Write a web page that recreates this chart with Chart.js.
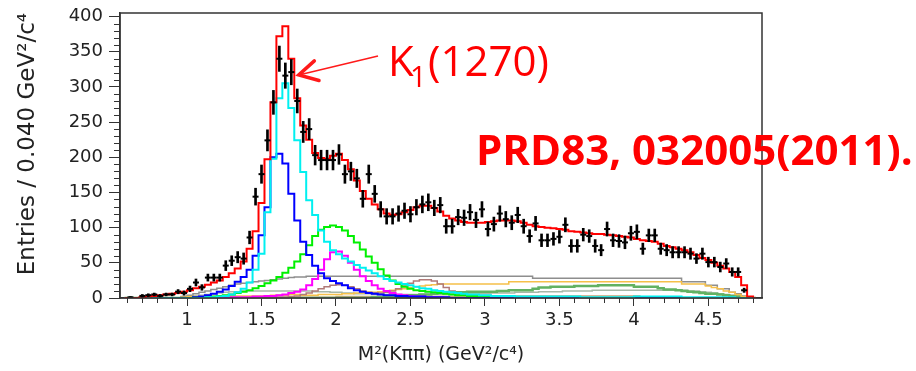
<!DOCTYPE html>
<html>
<head>
<meta charset="utf-8">
<title>M2(Kpipi) fit</title>
<script src="https://cdn.jsdelivr.net/npm/chart.js@4.4.1/dist/chart.umd.min.js"></script>
<style>
  body { margin: 0; background: #fff; }
  canvas { display: block; }
</style>
</head>
<body>
<canvas id="chart" width="916" height="371"></canvas>
<script>
// histogram binning: 0.040 GeV^2/c^4 bins, first bin centred at 0.58
var firstBin = 0.58;
var binWidth = 0.04;

var xTickValues = [1, 1.5, 2, 2.5, 3, 3.5, 4, 4.5];
var yTickValues = [0, 50, 100, 150, 200, 250, 300, 350, 400];

// data points (entries per bin), null = empty bin
var counts = [
  null, 1, null, 3, 4, 5, 3, 5, 5, 9,
  7, 13, 22, 15, 29, 29, 29, 46, 53, 58,
  56, 86, 144, 176, 224, 278, 340, 316, 321, 280,
  236, 240, 203, 196, 196, 196, 204, 176, 180, 170,
  141, 176, 148, 126, 116, 116, 120, 124, 119, 129,
  133, 136, 128, 132, 102, 102, 115, 114, 122, 111,
  126, 98, 105, 120, 112, 107, 118, 102, 88, 106,
  82, 82, 84, 87, 104, 74, 74, 90, 88, 74,
  68, 98, 82, 81, 79, 92, 94, 70, 89, 89,
  70, 68, 65, 65, 65, 63, 56, 63, 51, 51,
  44, 49, 37, 37, 11, null, null
];
var errors = [
  0, 1, 0, 2, 2, 2, 2, 2, 2, 3,
  3, 4, 5, 4, 5, 5, 5, 7, 7, 8,
  8, 9, 12, 13, 15, 17, 18, 18, 18, 17,
  15, 15, 14, 14, 14, 14, 14, 13, 13, 13,
  12, 13, 12, 11, 11, 11, 11, 11, 11, 11,
  12, 12, 11, 11, 10, 10, 11, 11, 11, 11,
  11, 10, 10, 11, 11, 10, 11, 10, 9, 10,
  9, 9, 9, 9, 10, 9, 9, 9, 9, 9,
  8, 10, 9, 9, 9, 10, 10, 8, 9, 9,
  8, 8, 8, 8, 8, 8, 7, 8, 7, 7,
  7, 7, 6, 6, 3, 0, 0
];

// fit result (red) and its components
var total = [
  0, 0, 0, 1, 2, 3, 4, 5, 6, 7,
  9, 11, 14, 16, 19, 22, 25, 30, 35, 42,
  52, 70, 95, 135, 197, 278, 372, 386, 340, 284,
  245, 225, 206, 199, 198, 202, 205, 196, 183, 167,
  152, 141, 133, 126, 120, 118, 119, 122, 125, 129,
  131, 131, 128, 123, 117, 113, 110, 108, 107, 107,
  107, 108, 109, 110, 110, 110, 109, 107, 104, 102,
  101, 100, 99, 98, 97, 95, 94, 93, 92, 91,
  91, 90, 89, 88, 87, 86, 84, 82, 81, 80,
  77, 74, 72, 70, 68, 65, 61, 57, 54, 50,
  46, 42, 37, 30, 18, 2, 0
];
var cyanComp = [
  0, 0, 0, 0, 0, 0, 0, 0, 0, 0,
  0, 0, 0, 0, 1, 1, 2, 3, 5, 8,
  13, 22, 40, 63, 122, 198, 284, 305, 270, 224,
  179, 139, 118, 96, 80, 68, 62, 56, 52, 47,
  43, 39, 35, 31, 27, 24, 22, 20, 18, 16,
  14, 13, 11, 10, 9, 8, 7, 6, 5, 5,
  4, 4, 3, 3, 3, 3, 2, 2, 2, 2,
  2, 2, 2, 2, 2, 2, 2, 1, 1, 1,
  1, 1, 1, 1, 1, 1, 2, 2, 2, 2,
  2, 2, 2, 2, 1, 1, 1, 1, 1, 1,
  1, 1, 1, 0, 0, 0, 0
];
var blueComp = [
  0, 0, 0, 0, 0, 0, 0, 0, 0, 0,
  0, 0, 1, 2, 4, 6, 9, 12, 17, 23,
  30, 40, 60, 89, 129, 200, 205, 191, 148, 110,
  80, 61, 46, 35, 28, 24, 21, 18, 14, 11,
  9, 7, 6, 5, 4, 4, 3, 3, 2, 2,
  2, 1, 1, 1, 1, 0, 0, 0, 0, 0,
  0, 0, 0, 0, 0, 0, 0, 0, 0, 0,
  0, 0, 0, 0, 0, 0, 0, 0, 0, 0,
  0, 0, 0, 0, 0, 0, 0, 0, 0, 0,
  0, 0, 0, 0, 0, 0, 0, 0, 0, 0,
  0, 0, 0, 0, 0, 0, 0
];
var greenComp = [
  0, 0, 0, 0, 0, 0, 0, 0, 0, 0,
  0, 0, 1, 1, 2, 2, 3, 4, 5, 7,
  9, 11, 14, 17, 21, 25, 30, 36, 43, 52,
  62, 75, 88, 97, 101, 103, 101, 96, 88, 79,
  69, 59, 50, 41, 32, 25, 20, 16, 13, 11,
  10, 9, 8, 7, 6, 5, 4, 4, 3, 3,
  2, 2, 2, 2, 1, 1, 1, 1, 1, 1,
  1, 1, 1, 1, 0, 0, 0, 0, 0, 0,
  0, 0, 0, 0, 0, 0, 0, 0, 0, 0,
  0, 0, 0, 0, 0, 0, 0, 0, 0, 0,
  0, 0, 0, 0, 0, 0, 0
];
var magentaComp = [
  0, 0, 0, 0, 0, 0, 0, 0, 0, 0,
  0, 0, 0, 0, 0, 0, 0, 0, 1, 1,
  1, 1, 2, 2, 3, 3, 4, 5, 7, 9,
  12, 18, 27, 40, 55, 65, 66, 60, 50, 40,
  31, 24, 18, 13, 10, 7, 5, 4, 3, 2,
  2, 1, 1, 1, 0, 0, 0, 0, 0, 0,
  0, 0, 0, 0, 0, 0, 0, 0, 0, 0,
  0, 0, 0, 0, 0, 0, 0, 0, 0, 0,
  0, 0, 0, 0, 0, 0, 0, 0, 0, 0,
  0, 0, 0, 0, 0, 0, 0, 0, 0, 0,
  0, 0, 0, 0, 0, 0, 0
];
var grayComp = [
  0, 0, 0, 0, 0, 0, 0, 0, 0, 0,
  2, 4, 6, 8, 10, 12, 14, 16, 18, 20,
  21, 22, 23, 24, 25, 26, 27, 28, 29, 30,
  30, 31, 31, 31, 31, 31, 31, 31, 31, 31,
  31, 31, 31, 31, 31, 31, 31, 31, 31, 31,
  31, 31, 31, 31, 31, 31, 31, 31, 31, 31,
  31, 31, 31, 31, 31, 31, 31, 31, 31, 28,
  28, 28, 28, 28, 28, 28, 28, 28, 28, 28,
  28, 28, 28, 28, 28, 28, 28, 28, 28, 28,
  28, 28, 28, 28, 23, 23, 23, 23, 18, 18,
  13, 13, 8, 6, 3, 0, 0
];
var orangeComp = [
  0, 0, 0, 0, 0, 0, 0, 0, 0, 0,
  1, 2, 2, 2, 2, 2, 2, 3, 3, 3,
  3, 3, 3, 3, 3, 4, 4, 4, 5, 5,
  4, 4, 4, 5, 5, 5, 5, 6, 6, 7,
  7, 8, 8, 9, 10, 11, 12, 13, 15, 16,
  17, 18, 19, 20, 20, 20, 20, 20, 20, 20,
  20, 20, 20, 20, 20, 23, 23, 23, 23, 23,
  23, 23, 23, 23, 23, 23, 23, 23, 23, 23,
  23, 23, 23, 23, 23, 23, 23, 23, 23, 23,
  23, 23, 23, 23, 20, 20, 20, 20, 17, 15,
  13, 10, 8, 5, 2, 0, 0
];
var brownComp = [
  0, 0, 0, 0, 0, 0, 0, 0, 0, 0,
  0, 0, 0, 0, 0, 0, 0, 0, 0, 0,
  0, 0, 0, 0, 0, 0, 1, 1, 2, 3,
  5, 7, 10, 13, 16, 18, 19, 18, 16, 13,
  10, 8, 7, 7, 8, 10, 13, 17, 21, 24,
  26, 26, 24, 20, 15, 10, 7, 5, 3, 2,
  1, 1, 1, 1, 1, 0, 0, 0, 0, 0,
  0, 0, 0, 0, 0, 0, 0, 0, 0, 0,
  0, 0, 0, 0, 0, 0, 0, 0, 0, 0,
  0, 0, 0, 0, 0, 0, 0, 0, 0, 0,
  0, 0, 0, 0, 0, 0, 0
];
var darkGreenComp = [
  0, 0, 0, 0, 0, 0, 0, 0, 0, 0,
  0, 0, 0, 0, 0, 0, 0, 0, 0, 0,
  0, 0, 0, 0, 0, 0, 0, 0, 0, 0,
  0, 0, 0, 0, 0, 0, 0, 0, 0, 0,
  0, 0, 1, 1, 2, 2, 3, 3, 4, 4,
  5, 5, 6, 7, 8, 8, 8, 8, 9, 9,
  9, 9, 9, 10, 10, 11, 11, 11, 11, 13,
  15, 15, 16, 16, 16, 16, 17, 17, 17, 17,
  18, 18, 18, 18, 18, 18, 16, 16, 16, 16,
  14, 12, 12, 11, 10, 9, 8, 7, 6, 6,
  5, 4, 3, 2, 1, 0, 0
];
var sageComp = [
  0, 0, 0, 0, 0, 0, 0, 0, 0, 0,
  1, 2, 3, 4, 5, 6, 7, 8, 9, 9,
  10, 10, 10, 10, 10, 10, 10, 10, 10, 10,
  10, 10, 9, 9, 9, 8, 8, 7, 7, 6,
  6, 6, 5, 5, 5, 5, 5, 5, 5, 5,
  5, 5, 5, 5, 5, 5, 5, 6, 6, 6,
  6, 6, 7, 7, 7, 7, 8, 8, 8, 8,
  9, 9, 9, 9, 10, 10, 10, 10, 10, 11,
  11, 11, 11, 11, 11, 11, 11, 11, 11, 11,
  11, 11, 11, 11, 11, 10, 10, 9, 8, 7,
  6, 5, 4, 3, 1, 0, 0
];
var tanComp = [
  0, 0, 0, 0, 0, 0, 0, 0, 0, 0,
  1, 1, 1, 1, 1, 1, 1, 1, 1, 1,
  1, 1, 1, 1, 1, 1, 1, 1, 1, 1,
  1, 1, 1, 1, 1, 1, 2, 2, 2, 2,
  2, 2, 2, 2, 2, 2, 2, 2, 2, 2,
  2, 2, 2, 2, 2, 2, 2, 2, 2, 2,
  2, 2, 2, 2, 2, 3, 3, 3, 3, 3,
  3, 3, 3, 3, 3, 3, 3, 3, 3, 3,
  3, 3, 3, 3, 3, 3, 3, 0, 0, 0,
  0, 0, 0, 0, 0, 0, 0, 0, 0, 0,
  0, 0, 0, 0, 0, 0, 0
];

var binCenters = counts.map(function(_, i) {
  return Math.round((firstBin + i * binWidth) * 100) / 100;
});

var FONT = "'DejaVu Sans', sans-serif";
var AXIS = '#333';

function histogram(values, color, width) {
  return {
    type: 'line',
    data: values.map(function(v, i) { return { x: binCenters[i], y: v }; }),
    borderColor: color,
    borderWidth: width || 2,
    stepped: 'middle',
    pointRadius: 0,
    fill: false
  };
}

var points = [];
var errorBars = [];
counts.forEach(function(v, i) {
  if (v === null) return;
  points.push({ x: binCenters[i], y: v });
  if (errors[i] > 0) {
    errorBars.push({ x: binCenters[i], y: [v - errors[i], v + errors[i]] });
  }
});

// minor ticks, frame, and the red annotations
var decorPlugin = {
  id: 'decor',
  afterDraw: function(chart) {
    var ctx = chart.ctx;
    var area = chart.chartArea;
    var xs = chart.scales.x;
    var ys = chart.scales.y;

    ctx.save();
    ctx.strokeStyle = AXIS;
    ctx.lineWidth = 1;
    ctx.beginPath();
    for (var v = 10; v < 405; v += 10) {
      if (v % 50 === 0) continue;
      var py = Math.round(ys.getPixelForValue(v)) + 0.5;
      ctx.moveTo(area.left - 6, py);
      ctx.lineTo(area.left, py);
    }
    for (var k = 6; k <= 48; k++) {
      if (k % 5 === 0 && k >= 10) continue;
      var px = Math.round(xs.getPixelForValue(k / 10)) + 0.5;
      ctx.moveTo(px, area.bottom);
      ctx.lineTo(px, area.bottom + 5);
    }
    ctx.stroke();

    ctx.lineWidth = 1.5;
    ctx.strokeRect(area.left, area.top, area.right - area.left, area.bottom - area.top);

    // arrow pointing at the K1(1270) peak
    var tipX = xs.getPixelForValue(1.75);
    var tipY = ys.getPixelForValue(317);
    var tailX = 378, tailY = 56;
    var ang = Math.atan2(tailY - tipY, tailX - tipX);
    ctx.strokeStyle = '#ff1a1a';
    ctx.lineWidth = 1.5;
    ctx.beginPath();
    ctx.moveTo(tailX, tailY);
    ctx.lineTo(tipX, tipY);
    ctx.stroke();
    ctx.lineWidth = 3.5;
    ctx.lineCap = 'round';
    ctx.beginPath();
    ctx.moveTo(tipX + 21 * Math.cos(ang - 0.5), tipY + 21 * Math.sin(ang - 0.5));
    ctx.lineTo(tipX, tipY);
    ctx.lineTo(tipX + 21 * Math.cos(ang + 0.5), tipY + 21 * Math.sin(ang + 0.5));
    ctx.stroke();

    ctx.fillStyle = '#ff0000';
    ctx.textBaseline = 'alphabetic';
    ctx.textAlign = 'left';
    ctx.font = "42px 'Open Sans'";
    ctx.fillText('K', 388, 76);
    ctx.font = "29px 'Open Sans'";
    ctx.fillText('1', 410, 87);
    ctx.font = "42px 'Open Sans'";
    ctx.fillText('(1270)', 428, 76);

    ctx.font = "bold 42px 'Open Sans'";
    ctx.fillText('PRD83, 032005(2011).', 476, 165);
    ctx.restore();
  }
};

new Chart(document.getElementById('chart'), {
  type: 'line',
  data: {
    datasets: [
      {
        type: 'bar',
        data: errorBars,
        backgroundColor: '#000',
        barThickness: 2
      },
      {
        type: 'line',
        data: points,
        showLine: false,
        pointStyle: 'line',
        pointRadius: 3,
        pointBorderWidth: 2,
        pointBorderColor: '#000',
        borderColor: '#000'
      },
      histogram(total, '#ff0000', 2),
      histogram(cyanComp, '#00f0f0', 2),
      histogram(blueComp, '#0000ff', 2),
      histogram(greenComp, '#00f000', 2),
      histogram(magentaComp, '#ff00ff', 2),
      histogram(brownComp, '#b07a78', 1.5),
      histogram(orangeComp, '#f5c04a', 1.5),
      histogram(grayComp, '#8e8e8e', 1.5),
      histogram(darkGreenComp, '#62b262', 2.5),
      histogram(sageComp, '#a7b8a7', 1.5),
      histogram(tanComp, '#c4a47a', 1.5)
    ]
  },
  options: {
    responsive: false,
    animation: false,
    devicePixelRatio: 1,
    layout: { padding: { left: 0, right: 154, top: 13, bottom: 0 } },
    plugins: {
      legend: { display: false },
      tooltip: { enabled: false }
    },
    scales: {
      x: {
        type: 'linear',
        min: 0.55,
        max: 4.86,
        offset: false,
        afterBuildTicks: function(scale) {
          scale.ticks = xTickValues.map(function(v) { return { value: v }; });
        },
        afterFit: function(scale) {
          scale.height = 73;
          scale.paddingLeft = 0;
          scale.paddingRight = 0;
        },
        ticks: {
          callback: function(v) { return String(v); },
          font: { family: FONT, size: 18 },
          color: '#222',
          padding: 4,
          maxRotation: 0,
          autoSkip: false
        },
        grid: { drawOnChartArea: false, offset: false, tickLength: 8, color: AXIS },
        border: { color: AXIS, width: 1.5 },
        title: {
          display: true,
          text: 'M²(Kππ) (GeV²/c⁴)',
          font: { family: FONT, size: 19 },
          color: '#222',
          padding: { top: 0, bottom: 5 }
        }
      },
      y: {
        type: 'linear',
        min: 0,
        max: 405,
        afterBuildTicks: function(scale) {
          scale.ticks = yTickValues.map(function(v) { return { value: v }; });
        },
        afterFit: function(scale) {
          scale.width = 120;
          scale.paddingTop = 0;
          scale.paddingBottom = 0;
        },
        ticks: {
          callback: function(v) { return String(v); },
          font: { family: FONT, size: 18 },
          color: '#222',
          padding: 6
        },
        grid: { drawOnChartArea: false, tickLength: 11, color: AXIS },
        border: { color: AXIS, width: 1.5 },
        title: {
          display: true,
          text: 'Entries / 0.040 GeV²/c⁴',
          align: 'end',
          font: { family: FONT, size: 23 },
          color: '#222',
          padding: { top: 14, bottom: 0 }
        }
      }
    }
  },
  plugins: [decorPlugin]
});
</script>
</body>
</html>
